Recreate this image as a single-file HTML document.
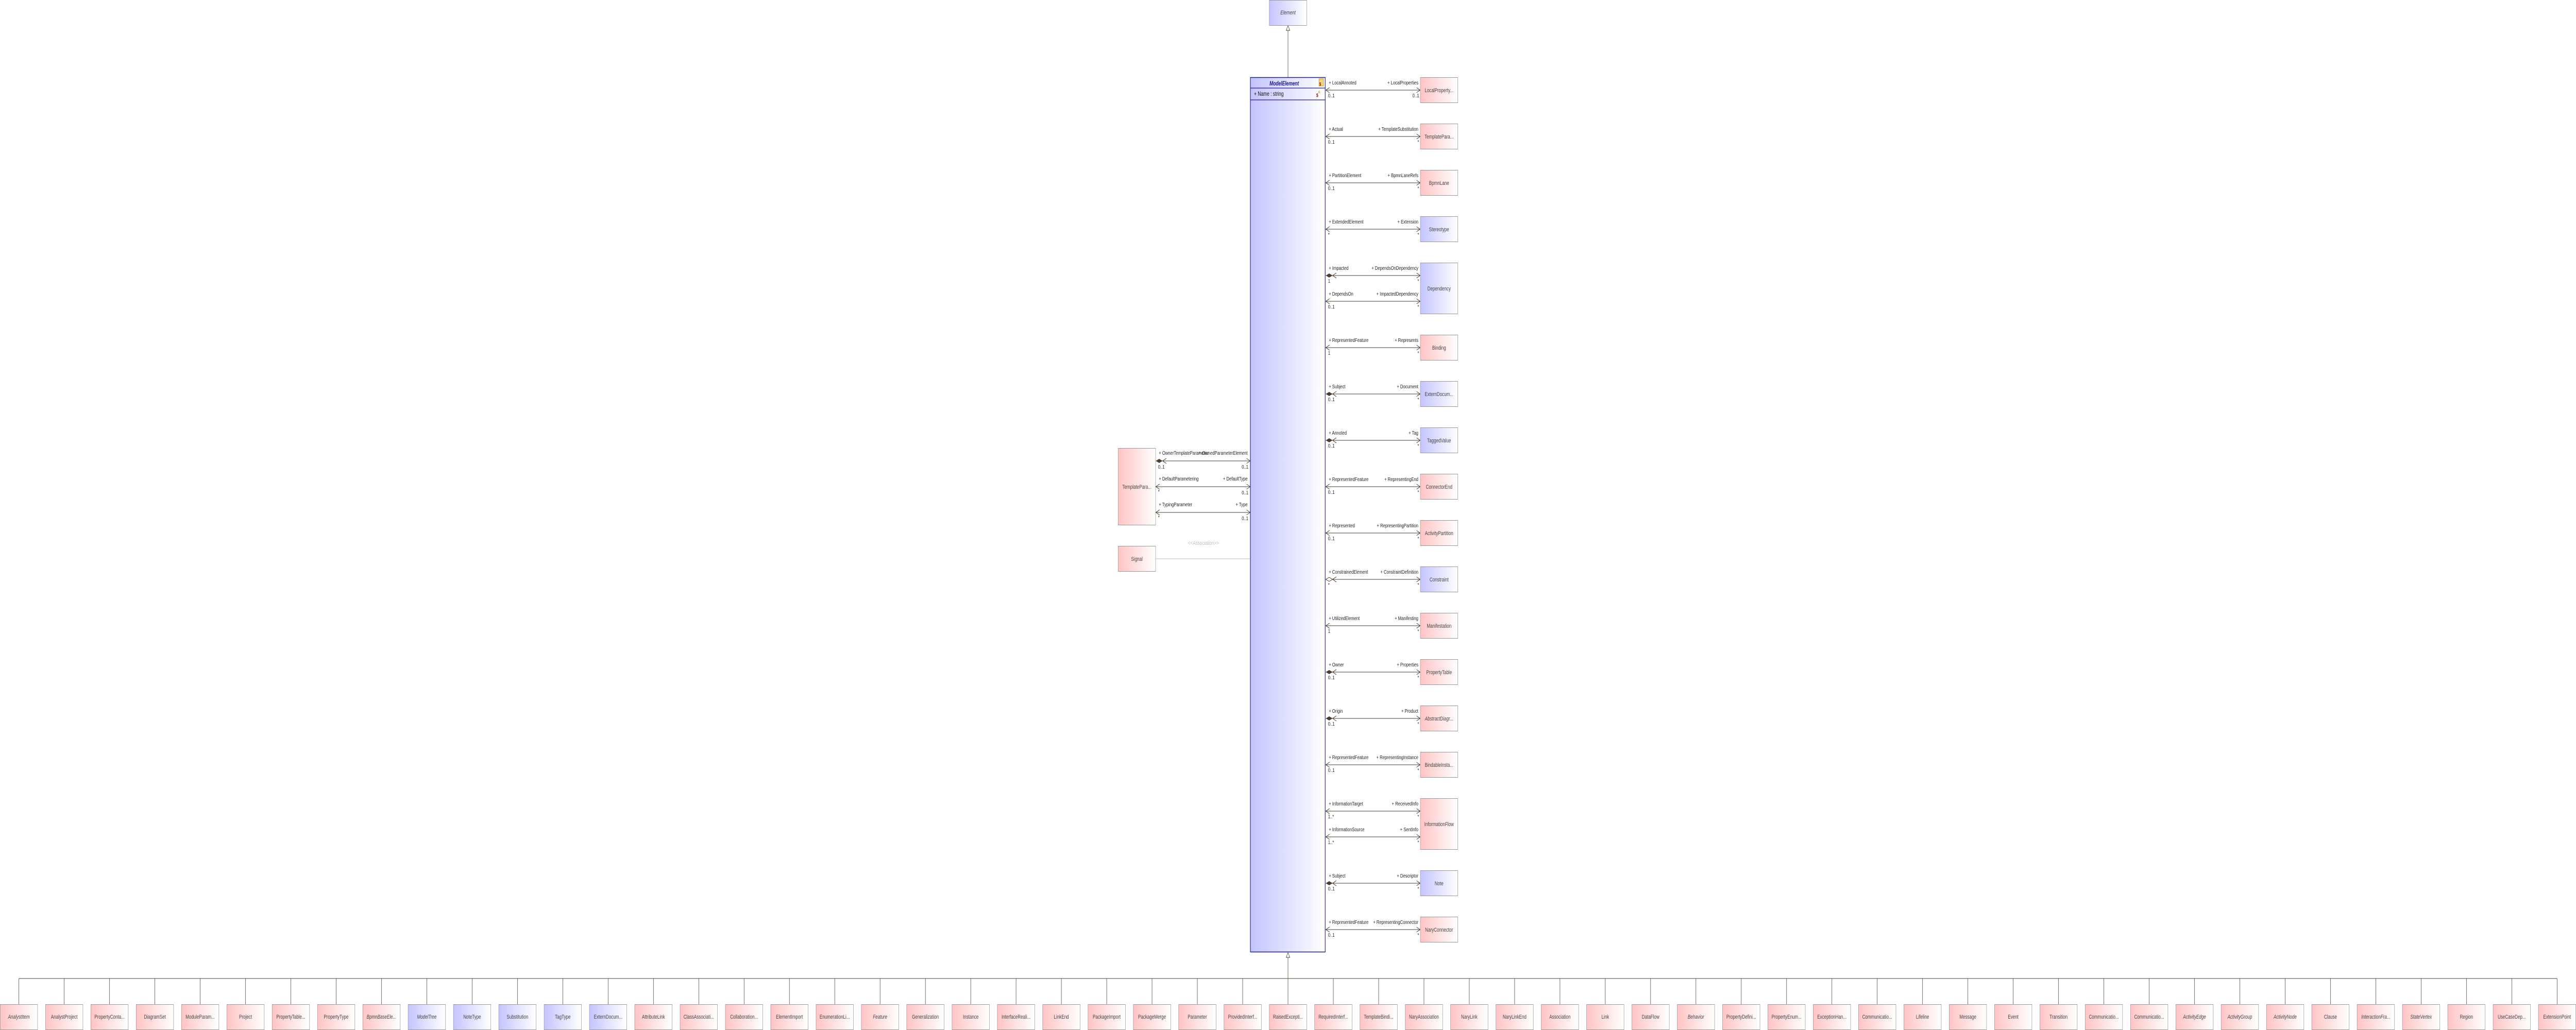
<!DOCTYPE html>
<html><head><meta charset="utf-8"><style>
html,body{margin:0;padding:0;background:#fff;width:100%;height:100%;overflow:hidden;}
svg{display:block;width:100vw;height:100vh;}
text{font-family:"Liberation Sans",sans-serif;}
.bn{font-size:11px;fill:#454545;text-anchor:middle;}
.lb{font-size:10.5px;fill:#222;}
.le{font-size:10.5px;fill:#222;text-anchor:end;}
.it{font-style:italic;}
.pk{fill:url(#pg);stroke:#999;stroke-width:1;}
.bl{fill:url(#bg);stroke:#999;stroke-width:1;}
.ln{stroke:#4a3f2f;stroke-width:1;fill:none;}
.dr{stroke:#4a3f2f;stroke-width:1;}
</style></head><body>
<svg viewBox="0 0 6820 2000" preserveAspectRatio="none" xmlns="http://www.w3.org/2000/svg">
<defs>
<linearGradient id="pg" x1="0" x2="1" y1="0" y2="0"><stop offset="0" stop-color="#ffc4c4"/><stop offset="1" stop-color="#ffffff"/></linearGradient>
<linearGradient id="bg" x1="0" x2="1" y1="0" y2="0"><stop offset="0" stop-color="#c4c4ff"/><stop offset="1" stop-color="#ffffff"/></linearGradient>
<marker id="ar" viewBox="0 0 10 10" refX="10" refY="5" markerWidth="10" markerHeight="10" markerUnits="userSpaceOnUse" orient="auto"><path d="M0,0 L10,5 L0,10" fill="none" stroke="#4a3f2f" stroke-width="1"/></marker>
</defs>

<rect x="3360.5" y="0.5" width="99" height="49" class="bl"/>
<text x="3410" y="28" class="bn it">Element</text>
<line x1="3410" y1="58" x2="3410" y2="150" class="ln"/>
<polygon points="3410,50 3405,59 3415,59" fill="#fff" stroke="#4a3f2f"/>

<rect x="3310.5" y="150.5" width="198" height="1698" fill="url(#bg)" stroke="#1a1a9a" stroke-width="1.5"/>
<line x1="3310" y1="171" x2="3509" y2="171" stroke="#1a1a9a" stroke-width="1.2"/>
<line x1="3310" y1="194" x2="3509" y2="194" stroke="#1a1a9a" stroke-width="1.2"/>
<text x="3400" y="166" font-size="11.5" font-weight="bold" font-style="italic" fill="#1a1a8a" text-anchor="middle">ModelElement</text>
<rect x="3492" y="153" width="12" height="14" fill="#f5d77a" stroke="#c09020"/>
<text x="3493" y="166" font-size="8" fill="#8b0000" font-weight="bold">$</text>
<text x="3320" y="186" font-size="11.5" fill="#111">+ Name : string</text>
<text x="3485" y="188" font-size="9" fill="#8b0000" font-weight="bold">$</text>
<text x="3490" y="181" font-size="7" fill="#a08000">A:</text>
<line x1="3410" y1="1858" x2="3410" y2="1900" class="ln"/>
<polygon points="3410,1850 3405,1859 3415,1859" fill="#fff" stroke="#4a3f2f"/>

<g>
<rect x="3760.5" y="150.5" width="99" height="49" class="pk"/><text x="3810" y="179" class="bn">LocalProperty...</text>
<line x1="3510" y1="175" x2="3760" y2="175" class="ln" marker-end="url(#ar)"/><polyline points="3520,170 3510,175 3520,180" class="ln"/>
<text x="3518" y="164" class="lb">+ LocalAnnoted</text><text x="3755" y="164" class="le">+ LocalProperties</text>
<text x="3516" y="189" class="lb">0..1</text><text x="3757" y="189" class="le">0..1</text>
<rect x="3760.5" y="240.5" width="99" height="49" class="pk"/><text x="3810" y="269" class="bn">TemplatePara...</text>
<line x1="3510" y1="265" x2="3760" y2="265" class="ln" marker-end="url(#ar)"/><polyline points="3520,260 3510,265 3520,270" class="ln"/>
<text x="3518" y="254" class="lb">+ Actual</text><text x="3755" y="254" class="le">+ TemplateSubstitution</text>
<text x="3516" y="279" class="lb">0..1</text><text x="3757" y="279" class="le">*</text>
<rect x="3760.5" y="330.5" width="99" height="49" class="pk"/><text x="3810" y="359" class="bn">BpmnLane</text>
<line x1="3510" y1="355" x2="3760" y2="355" class="ln" marker-end="url(#ar)"/><polyline points="3520,350 3510,355 3520,360" class="ln"/>
<text x="3518" y="344" class="lb">+ PartitionElement</text><text x="3755" y="344" class="le">+ BpmnLaneRefs</text>
<text x="3516" y="369" class="lb">0..1</text><text x="3757" y="369" class="le">*</text>
<rect x="3760.5" y="420.5" width="99" height="49" class="bl"/><text x="3810" y="449" class="bn">Stereotype</text>
<line x1="3510" y1="445" x2="3760" y2="445" class="ln" marker-end="url(#ar)"/><polyline points="3520,440 3510,445 3520,450" class="ln"/>
<text x="3518" y="434" class="lb">+ ExtendedElement</text><text x="3755" y="434" class="le">+ Extension</text>
<text x="3516" y="459" class="lb">*</text><text x="3757" y="459" class="le">*</text>
<rect x="3760.5" y="510.5" width="99" height="99" class="bl"/><text x="3810" y="564" class="bn">Dependency</text>
<line x1="3510" y1="535" x2="3760" y2="535" class="ln" marker-end="url(#ar)"/>
<polygon points="3510,535 3519,531 3528,535 3519,539" fill="#4a3f2f"/><polyline points="3538,530 3528,535 3538,540" class="ln"/>
<text x="3518" y="524" class="lb">+ Impacted</text><text x="3755" y="524" class="le">+ DependsOnDependency</text>
<text x="3516" y="549" class="lb">1</text><text x="3757" y="549" class="le">*</text>
<line x1="3510" y1="585" x2="3760" y2="585" class="ln" marker-end="url(#ar)"/><polyline points="3520,580 3510,585 3520,590" class="ln"/>
<text x="3518" y="574" class="lb">+ DependsOn</text><text x="3755" y="574" class="le">+ ImpactedDependency</text>
<text x="3516" y="599" class="lb">0..1</text><text x="3757" y="599" class="le">*</text>
<rect x="3760.5" y="650.5" width="99" height="49" class="pk"/><text x="3810" y="679" class="bn">Binding</text>
<line x1="3510" y1="675" x2="3760" y2="675" class="ln" marker-end="url(#ar)"/><polyline points="3520,670 3510,675 3520,680" class="ln"/>
<text x="3518" y="664" class="lb">+ RepresentedFeature</text><text x="3755" y="664" class="le">+ Represents</text>
<text x="3516" y="689" class="lb">1</text><text x="3757" y="689" class="le">*</text>
<rect x="3760.5" y="740.5" width="99" height="49" class="bl"/><text x="3810" y="769" class="bn">ExternDocum...</text>
<line x1="3510" y1="765" x2="3760" y2="765" class="ln" marker-end="url(#ar)"/>
<polygon points="3510,765 3519,761 3528,765 3519,769" fill="#4a3f2f"/><polyline points="3538,760 3528,765 3538,770" class="ln"/>
<text x="3518" y="754" class="lb">+ Subject</text><text x="3755" y="754" class="le">+ Document</text>
<text x="3516" y="779" class="lb">0..1</text><text x="3757" y="779" class="le">*</text>
<rect x="3760.5" y="830.5" width="99" height="49" class="bl"/><text x="3810" y="859" class="bn">TaggedValue</text>
<line x1="3510" y1="855" x2="3760" y2="855" class="ln" marker-end="url(#ar)"/>
<polygon points="3510,855 3519,851 3528,855 3519,859" fill="#4a3f2f"/><polyline points="3538,850 3528,855 3538,860" class="ln"/>
<text x="3518" y="844" class="lb">+ Annoted</text><text x="3755" y="844" class="le">+ Tag</text>
<text x="3516" y="869" class="lb">0..1</text><text x="3757" y="869" class="le">*</text>
<rect x="3760.5" y="920.5" width="99" height="49" class="pk"/><text x="3810" y="949" class="bn">ConnectorEnd</text>
<line x1="3510" y1="945" x2="3760" y2="945" class="ln" marker-end="url(#ar)"/><polyline points="3520,940 3510,945 3520,950" class="ln"/>
<text x="3518" y="934" class="lb">+ RepresentedFeature</text><text x="3755" y="934" class="le">+ RepresentingEnd</text>
<text x="3516" y="959" class="lb">0..1</text><text x="3757" y="959" class="le">*</text>
<rect x="3760.5" y="1010.5" width="99" height="49" class="pk"/><text x="3810" y="1039" class="bn">ActivityPartition</text>
<line x1="3510" y1="1035" x2="3760" y2="1035" class="ln" marker-end="url(#ar)"/><polyline points="3520,1030 3510,1035 3520,1040" class="ln"/>
<text x="3518" y="1024" class="lb">+ Represented</text><text x="3755" y="1024" class="le">+ RepresentingPartition</text>
<text x="3516" y="1049" class="lb">0..1</text><text x="3757" y="1049" class="le">*</text>
<rect x="3760.5" y="1100.5" width="99" height="49" class="bl"/><text x="3810" y="1129" class="bn">Constraint</text>
<line x1="3528" y1="1125" x2="3760" y2="1125" class="ln" marker-end="url(#ar)"/>
<polygon points="3510,1125 3519,1121 3528,1125 3519,1129" fill="#fff" stroke="#4a3f2f"/><polyline points="3538,1120 3528,1125 3538,1130" class="ln"/>
<text x="3518" y="1114" class="lb">+ ConstrainedElement</text><text x="3755" y="1114" class="le">+ ConstraintDefinition</text>
<text x="3516" y="1139" class="lb">*</text><text x="3757" y="1139" class="le">*</text>
<rect x="3760.5" y="1190.5" width="99" height="49" class="pk"/><text x="3810" y="1219" class="bn">Manifestation</text>
<line x1="3510" y1="1215" x2="3760" y2="1215" class="ln" marker-end="url(#ar)"/><polyline points="3520,1210 3510,1215 3520,1220" class="ln"/>
<text x="3518" y="1204" class="lb">+ UtilizedElement</text><text x="3755" y="1204" class="le">+ Manifesting</text>
<text x="3516" y="1229" class="lb">1</text><text x="3757" y="1229" class="le">*</text>
<rect x="3760.5" y="1280.5" width="99" height="49" class="pk"/><text x="3810" y="1309" class="bn">PropertyTable</text>
<line x1="3510" y1="1305" x2="3760" y2="1305" class="ln" marker-end="url(#ar)"/>
<polygon points="3510,1305 3519,1301 3528,1305 3519,1309" fill="#4a3f2f"/><polyline points="3538,1300 3528,1305 3538,1310" class="ln"/>
<text x="3518" y="1294" class="lb">+ Owner</text><text x="3755" y="1294" class="le">+ Properties</text>
<text x="3516" y="1319" class="lb">0..1</text><text x="3757" y="1319" class="le">*</text>
<rect x="3760.5" y="1370.5" width="99" height="49" class="pk"/><text x="3810" y="1399" class="bn it">AbstractDiagr...</text>
<line x1="3510" y1="1395" x2="3760" y2="1395" class="ln" marker-end="url(#ar)"/>
<polygon points="3510,1395 3519,1391 3528,1395 3519,1399" fill="#4a3f2f"/><polyline points="3538,1390 3528,1395 3538,1400" class="ln"/>
<text x="3518" y="1384" class="lb">+ Origin</text><text x="3755" y="1384" class="le">+ Product</text>
<text x="3516" y="1409" class="lb">0..1</text><text x="3757" y="1409" class="le">*</text>
<rect x="3760.5" y="1460.5" width="99" height="49" class="pk"/><text x="3810" y="1489" class="bn">BindableInsta...</text>
<line x1="3510" y1="1485" x2="3760" y2="1485" class="ln" marker-end="url(#ar)"/><polyline points="3520,1480 3510,1485 3520,1490" class="ln"/>
<text x="3518" y="1474" class="lb">+ RepresentedFeature</text><text x="3755" y="1474" class="le">+ RepresentingInstance</text>
<text x="3516" y="1499" class="lb">0..1</text><text x="3757" y="1499" class="le">*</text>
<rect x="3760.5" y="1550.5" width="99" height="99" class="pk"/><text x="3810" y="1604" class="bn">InformationFlow</text>
<line x1="3510" y1="1575" x2="3760" y2="1575" class="ln" marker-end="url(#ar)"/><polyline points="3520,1570 3510,1575 3520,1580" class="ln"/>
<text x="3518" y="1564" class="lb">+ InformationTarget</text><text x="3755" y="1564" class="le">+ ReceivedInfo</text>
<text x="3516" y="1589" class="lb">1..*</text><text x="3757" y="1589" class="le">*</text>
<line x1="3510" y1="1625" x2="3760" y2="1625" class="ln" marker-end="url(#ar)"/><polyline points="3520,1620 3510,1625 3520,1630" class="ln"/>
<text x="3518" y="1614" class="lb">+ InformationSource</text><text x="3755" y="1614" class="le">+ SentInfo</text>
<text x="3516" y="1639" class="lb">1..*</text><text x="3757" y="1639" class="le">*</text>
<rect x="3760.5" y="1690.5" width="99" height="49" class="bl"/><text x="3810" y="1719" class="bn">Note</text>
<line x1="3510" y1="1715" x2="3760" y2="1715" class="ln" marker-end="url(#ar)"/>
<polygon points="3510,1715 3519,1711 3528,1715 3519,1719" fill="#4a3f2f"/><polyline points="3538,1710 3528,1715 3538,1720" class="ln"/>
<text x="3518" y="1704" class="lb">+ Subject</text><text x="3755" y="1704" class="le">+ Descriptor</text>
<text x="3516" y="1729" class="lb">0..1</text><text x="3757" y="1729" class="le">*</text>
<rect x="3760.5" y="1780.5" width="99" height="49" class="pk"/><text x="3810" y="1809" class="bn">NaryConnector</text>
<line x1="3510" y1="1805" x2="3760" y2="1805" class="ln" marker-end="url(#ar)"/><polyline points="3520,1800 3510,1805 3520,1810" class="ln"/>
<text x="3518" y="1794" class="lb">+ RepresentedFeature</text><text x="3755" y="1794" class="le">+ RepresentingConnector</text>
<text x="3516" y="1819" class="lb">0..1</text><text x="3757" y="1819" class="le">*</text>
</g>

<rect x="2960.5" y="870.5" width="99" height="149" class="pk"/><text x="3010" y="949" class="bn">TemplatePara...</text>
<line x1="3060" y1="895" x2="3310" y2="895" class="ln" marker-end="url(#ar)"/>
<polygon points="3060,895 3069,891 3078,895 3069,899" fill="#4a3f2f"/><polyline points="3088,890 3078,895 3088,900" class="ln"/>
<text x="3068" y="883" class="lb">+ OwnerTemplateParameter</text><text x="3303" y="883" class="le">+ OwnedParameterElement</text>
<text x="3066" y="910" class="lb">0..1</text><text x="3305" y="910" class="le">0..1</text>
<line x1="3060" y1="945" x2="3310" y2="945" class="ln" marker-end="url(#ar)"/><polyline points="3070,940 3060,945 3070,950" class="ln"/>
<text x="3068" y="933" class="lb">+ DefaultParametering</text><text x="3303" y="933" class="le">+ DefaultType</text>
<text x="3066" y="958" class="lb">*</text><text x="3305" y="960" class="le">0..1</text>
<line x1="3060" y1="995" x2="3310" y2="995" class="ln" marker-end="url(#ar)"/><polyline points="3070,990 3060,995 3070,1000" class="ln"/>
<text x="3068" y="983" class="lb">+ TypingParameter</text><text x="3303" y="983" class="le">+ Type</text>
<text x="3066" y="1008" class="lb">*</text><text x="3305" y="1010" class="le">0..1</text>
<rect x="2960.5" y="1060.5" width="99" height="49" class="pk"/><text x="3010" y="1089" class="bn">Signal</text>
<line x1="3060" y1="1085" x2="3310" y2="1085" stroke="#bbb" stroke-width="1"/>
<text x="3186" y="1058" font-size="11" fill="#c0c0c0" text-anchor="middle">&lt;&lt;Association&gt;&gt;</text>

<line x1="50" y1="1900" x2="6770" y2="1900" class="ln" stroke-width="1.5"/>
<g class="dr">
<line x1="50" y1="1900" x2="50" y2="1950"/><line x1="170" y1="1900" x2="170" y2="1950"/><line x1="290" y1="1900" x2="290" y2="1950"/><line x1="410" y1="1900" x2="410" y2="1950"/><line x1="530" y1="1900" x2="530" y2="1950"/><line x1="650" y1="1900" x2="650" y2="1950"/><line x1="770" y1="1900" x2="770" y2="1950"/><line x1="890" y1="1900" x2="890" y2="1950"/><line x1="1010" y1="1900" x2="1010" y2="1950"/><line x1="1130" y1="1900" x2="1130" y2="1950"/>
<line x1="1250" y1="1900" x2="1250" y2="1950"/><line x1="1370" y1="1900" x2="1370" y2="1950"/><line x1="1490" y1="1900" x2="1490" y2="1950"/><line x1="1610" y1="1900" x2="1610" y2="1950"/><line x1="1730" y1="1900" x2="1730" y2="1950"/><line x1="1850" y1="1900" x2="1850" y2="1950"/><line x1="1970" y1="1900" x2="1970" y2="1950"/><line x1="2090" y1="1900" x2="2090" y2="1950"/><line x1="2210" y1="1900" x2="2210" y2="1950"/><line x1="2330" y1="1900" x2="2330" y2="1950"/>
<line x1="2450" y1="1900" x2="2450" y2="1950"/><line x1="2570" y1="1900" x2="2570" y2="1950"/><line x1="2690" y1="1900" x2="2690" y2="1950"/><line x1="2810" y1="1900" x2="2810" y2="1950"/><line x1="2930" y1="1900" x2="2930" y2="1950"/><line x1="3050" y1="1900" x2="3050" y2="1950"/><line x1="3170" y1="1900" x2="3170" y2="1950"/><line x1="3290" y1="1900" x2="3290" y2="1950"/><line x1="3410" y1="1900" x2="3410" y2="1950"/><line x1="3530" y1="1900" x2="3530" y2="1950"/>
<line x1="3650" y1="1900" x2="3650" y2="1950"/><line x1="3770" y1="1900" x2="3770" y2="1950"/><line x1="3890" y1="1900" x2="3890" y2="1950"/><line x1="4010" y1="1900" x2="4010" y2="1950"/><line x1="4130" y1="1900" x2="4130" y2="1950"/><line x1="4250" y1="1900" x2="4250" y2="1950"/><line x1="4370" y1="1900" x2="4370" y2="1950"/><line x1="4490" y1="1900" x2="4490" y2="1950"/><line x1="4610" y1="1900" x2="4610" y2="1950"/><line x1="4730" y1="1900" x2="4730" y2="1950"/>
<line x1="4850" y1="1900" x2="4850" y2="1950"/><line x1="4970" y1="1900" x2="4970" y2="1950"/><line x1="5090" y1="1900" x2="5090" y2="1950"/><line x1="5210" y1="1900" x2="5210" y2="1950"/><line x1="5330" y1="1900" x2="5330" y2="1950"/><line x1="5450" y1="1900" x2="5450" y2="1950"/><line x1="5570" y1="1900" x2="5570" y2="1950"/><line x1="5690" y1="1900" x2="5690" y2="1950"/><line x1="5810" y1="1900" x2="5810" y2="1950"/><line x1="5930" y1="1900" x2="5930" y2="1950"/>
<line x1="6050" y1="1900" x2="6050" y2="1950"/><line x1="6170" y1="1900" x2="6170" y2="1950"/><line x1="6290" y1="1900" x2="6290" y2="1950"/><line x1="6410" y1="1900" x2="6410" y2="1950"/><line x1="6530" y1="1900" x2="6530" y2="1950"/><line x1="6650" y1="1900" x2="6650" y2="1950"/><line x1="6770" y1="1900" x2="6770" y2="1950"/>
</g>

<rect x="0.5" y="1950.5" width="99" height="49" class="pk"/><text x="50" y="1978" class="bn it">AnalystItem</text>
<rect x="120.5" y="1950.5" width="99" height="49" class="pk"/><text x="170" y="1978" class="bn">AnalystProject</text>
<rect x="240.5" y="1950.5" width="99" height="49" class="pk"/><text x="290" y="1978" class="bn">PropertyConta...</text>
<rect x="360.5" y="1950.5" width="99" height="49" class="pk"/><text x="410" y="1978" class="bn">DiagramSet</text>
<rect x="480.5" y="1950.5" width="99" height="49" class="pk"/><text x="530" y="1978" class="bn">ModuleParam...</text>
<rect x="600.5" y="1950.5" width="99" height="49" class="pk"/><text x="650" y="1978" class="bn">Project</text>
<rect x="720.5" y="1950.5" width="99" height="49" class="pk"/><text x="770" y="1978" class="bn">PropertyTable...</text>
<rect x="840.5" y="1950.5" width="99" height="49" class="pk"/><text x="890" y="1978" class="bn">PropertyType</text>
<rect x="960.5" y="1950.5" width="99" height="49" class="pk"/><text x="1010" y="1978" class="bn it">BpmnBaseEle...</text>
<rect x="1080.5" y="1950.5" width="99" height="49" class="bl"/><text x="1130" y="1978" class="bn it">ModelTree</text>
<rect x="1200.5" y="1950.5" width="99" height="49" class="bl"/><text x="1250" y="1978" class="bn">NoteType</text>
<rect x="1320.5" y="1950.5" width="99" height="49" class="bl"/><text x="1370" y="1978" class="bn">Substitution</text>
<rect x="1440.5" y="1950.5" width="99" height="49" class="bl"/><text x="1490" y="1978" class="bn">TagType</text>
<rect x="1560.5" y="1950.5" width="99" height="49" class="bl"/><text x="1610" y="1978" class="bn">ExternDocum...</text>
<rect x="1680.5" y="1950.5" width="99" height="49" class="pk"/><text x="1730" y="1978" class="bn">AttributeLink</text>
<rect x="1800.5" y="1950.5" width="99" height="49" class="pk"/><text x="1850" y="1978" class="bn">ClassAssociati...</text>
<rect x="1920.5" y="1950.5" width="99" height="49" class="pk"/><text x="1970" y="1978" class="bn">Collaboration...</text>
<rect x="2040.5" y="1950.5" width="99" height="49" class="pk"/><text x="2090" y="1978" class="bn">ElementImport</text>
<rect x="2160.5" y="1950.5" width="99" height="49" class="pk"/><text x="2210" y="1978" class="bn">EnumerationLi...</text>
<rect x="2280.5" y="1950.5" width="99" height="49" class="pk"/><text x="2330" y="1978" class="bn it">Feature</text>
<rect x="2400.5" y="1950.5" width="99" height="49" class="pk"/><text x="2450" y="1978" class="bn">Generalization</text>
<rect x="2520.5" y="1950.5" width="99" height="49" class="pk"/><text x="2570" y="1978" class="bn">Instance</text>
<rect x="2640.5" y="1950.5" width="99" height="49" class="pk"/><text x="2690" y="1978" class="bn">InterfaceReali...</text>
<rect x="2760.5" y="1950.5" width="99" height="49" class="pk"/><text x="2810" y="1978" class="bn">LinkEnd</text>
<rect x="2880.5" y="1950.5" width="99" height="49" class="pk"/><text x="2930" y="1978" class="bn">PackageImport</text>
<rect x="3000.5" y="1950.5" width="99" height="49" class="pk"/><text x="3050" y="1978" class="bn">PackageMerge</text>
<rect x="3120.5" y="1950.5" width="99" height="49" class="pk"/><text x="3170" y="1978" class="bn">Parameter</text>
<rect x="3240.5" y="1950.5" width="99" height="49" class="pk"/><text x="3290" y="1978" class="bn">ProvidedInterf...</text>
<rect x="3360.5" y="1950.5" width="99" height="49" class="pk"/><text x="3410" y="1978" class="bn">RaisedExcepti...</text>
<rect x="3480.5" y="1950.5" width="99" height="49" class="pk"/><text x="3530" y="1978" class="bn">RequiredInterf...</text>
<rect x="3600.5" y="1950.5" width="99" height="49" class="pk"/><text x="3650" y="1978" class="bn">TemplateBindi...</text>
<rect x="3720.5" y="1950.5" width="99" height="49" class="pk"/><text x="3770" y="1978" class="bn">NaryAssociation</text>
<rect x="3840.5" y="1950.5" width="99" height="49" class="pk"/><text x="3890" y="1978" class="bn">NaryLink</text>
<rect x="3960.5" y="1950.5" width="99" height="49" class="pk"/><text x="4010" y="1978" class="bn">NaryLinkEnd</text>
<rect x="4080.5" y="1950.5" width="99" height="49" class="pk"/><text x="4130" y="1978" class="bn">Association</text>
<rect x="4200.5" y="1950.5" width="99" height="49" class="pk"/><text x="4250" y="1978" class="bn">Link</text>
<rect x="4320.5" y="1950.5" width="99" height="49" class="pk"/><text x="4370" y="1978" class="bn">DataFlow</text>
<rect x="4440.5" y="1950.5" width="99" height="49" class="pk"/><text x="4490" y="1978" class="bn it">Behavior</text>
<rect x="4560.5" y="1950.5" width="99" height="49" class="pk"/><text x="4610" y="1978" class="bn">PropertyDefini...</text>
<rect x="4680.5" y="1950.5" width="99" height="49" class="pk"/><text x="4730" y="1978" class="bn">PropertyEnum...</text>
<rect x="4800.5" y="1950.5" width="99" height="49" class="pk"/><text x="4850" y="1978" class="bn">ExceptionHan...</text>
<rect x="4920.5" y="1950.5" width="99" height="49" class="pk"/><text x="4970" y="1978" class="bn">Communicatio...</text>
<rect x="5040.5" y="1950.5" width="99" height="49" class="pk"/><text x="5090" y="1978" class="bn">Lifeline</text>
<rect x="5160.5" y="1950.5" width="99" height="49" class="pk"/><text x="5210" y="1978" class="bn">Message</text>
<rect x="5280.5" y="1950.5" width="99" height="49" class="pk"/><text x="5330" y="1978" class="bn">Event</text>
<rect x="5400.5" y="1950.5" width="99" height="49" class="pk"/><text x="5450" y="1978" class="bn">Transition</text>
<rect x="5520.5" y="1950.5" width="99" height="49" class="pk"/><text x="5570" y="1978" class="bn">Communicatio...</text>
<rect x="5640.5" y="1950.5" width="99" height="49" class="pk"/><text x="5690" y="1978" class="bn">Communicatio...</text>
<rect x="5760.5" y="1950.5" width="99" height="49" class="pk"/><text x="5810" y="1978" class="bn it">ActivityEdge</text>
<rect x="5880.5" y="1950.5" width="99" height="49" class="pk"/><text x="5930" y="1978" class="bn it">ActivityGroup</text>
<rect x="6000.5" y="1950.5" width="99" height="49" class="pk"/><text x="6050" y="1978" class="bn it">ActivityNode</text>
<rect x="6120.5" y="1950.5" width="99" height="49" class="pk"/><text x="6170" y="1978" class="bn">Clause</text>
<rect x="6240.5" y="1950.5" width="99" height="49" class="pk"/><text x="6290" y="1978" class="bn it">InteractionFra...</text>
<rect x="6360.5" y="1950.5" width="99" height="49" class="pk"/><text x="6410" y="1978" class="bn it">StateVertex</text>
<rect x="6480.5" y="1950.5" width="99" height="49" class="pk"/><text x="6530" y="1978" class="bn">Region</text>
<rect x="6600.5" y="1950.5" width="99" height="49" class="pk"/><text x="6650" y="1978" class="bn">UseCaseDep...</text>
<rect x="6720.5" y="1950.5" width="99" height="49" class="pk"/><text x="6770" y="1978" class="bn">ExtensionPoint</text>
</svg>
</body></html>
